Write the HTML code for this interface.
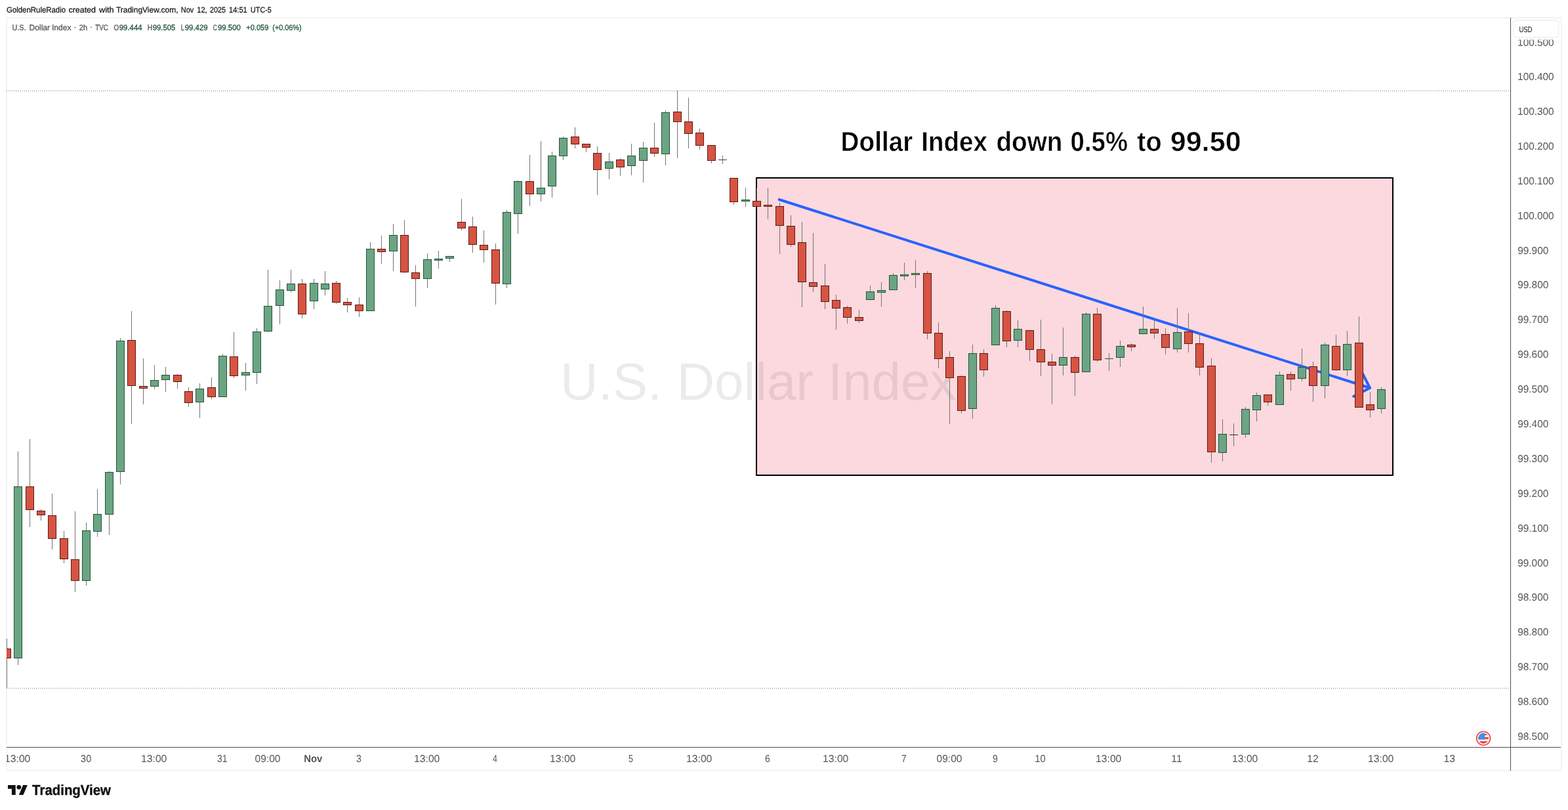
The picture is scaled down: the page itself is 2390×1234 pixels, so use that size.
<!DOCTYPE html>
<html lang="en"><head><meta charset="utf-8"><title>U.S. Dollar Index</title>
<style>
html,body{margin:0;padding:0;background:#fff;}
body{width:2390px;height:1234px;overflow:hidden;position:relative;font-family:"Liberation Sans", sans-serif;}
svg{position:absolute;left:0;top:0;display:block;}
text{font-family:"Liberation Sans", sans-serif;text-rendering:geometricPrecision;}
.ce{shape-rendering:crispEdges;}
</style></head><body>
<svg width="2390" height="1234" viewBox="0 0 2390 1234">
<rect x="0" y="0" width="2390" height="1234" fill="#ffffff"/>
<rect class="ce" x="10" y="27" width="2370" height="1147" fill="#ffffff" stroke="#f3f3f3" stroke-width="2"/>
<g class="ce" fill="#7a7a7a">
<path d="M10 138h1v1h-1zM13 138h1v1h-1zM16 138h1v1h-1zM19 138h1v1h-1zM22 138h1v1h-1zM25 138h1v1h-1zM28 138h1v1h-1zM31 138h1v1h-1zM34 138h1v1h-1zM37 138h1v1h-1zM40 138h1v1h-1zM43 138h1v1h-1zM46 138h1v1h-1zM49 138h1v1h-1zM52 138h1v1h-1zM55 138h1v1h-1zM58 138h1v1h-1zM61 138h1v1h-1zM64 138h1v1h-1zM67 138h1v1h-1zM70 138h1v1h-1zM73 138h1v1h-1zM76 138h1v1h-1zM79 138h1v1h-1zM82 138h1v1h-1zM85 138h1v1h-1zM88 138h1v1h-1zM91 138h1v1h-1zM94 138h1v1h-1zM97 138h1v1h-1zM100 138h1v1h-1zM103 138h1v1h-1zM106 138h1v1h-1zM109 138h1v1h-1zM112 138h1v1h-1zM115 138h1v1h-1zM118 138h1v1h-1zM121 138h1v1h-1zM124 138h1v1h-1zM127 138h1v1h-1zM130 138h1v1h-1zM133 138h1v1h-1zM136 138h1v1h-1zM139 138h1v1h-1zM142 138h1v1h-1zM145 138h1v1h-1zM148 138h1v1h-1zM151 138h1v1h-1zM154 138h1v1h-1zM157 138h1v1h-1zM160 138h1v1h-1zM163 138h1v1h-1zM166 138h1v1h-1zM169 138h1v1h-1zM172 138h1v1h-1zM175 138h1v1h-1zM178 138h1v1h-1zM181 138h1v1h-1zM184 138h1v1h-1zM187 138h1v1h-1zM190 138h1v1h-1zM193 138h1v1h-1zM196 138h1v1h-1zM199 138h1v1h-1zM202 138h1v1h-1zM205 138h1v1h-1zM208 138h1v1h-1zM211 138h1v1h-1zM214 138h1v1h-1zM217 138h1v1h-1zM220 138h1v1h-1zM223 138h1v1h-1zM226 138h1v1h-1zM229 138h1v1h-1zM232 138h1v1h-1zM235 138h1v1h-1zM238 138h1v1h-1zM241 138h1v1h-1zM244 138h1v1h-1zM247 138h1v1h-1zM250 138h1v1h-1zM253 138h1v1h-1zM256 138h1v1h-1zM259 138h1v1h-1zM262 138h1v1h-1zM265 138h1v1h-1zM268 138h1v1h-1zM271 138h1v1h-1zM274 138h1v1h-1zM277 138h1v1h-1zM280 138h1v1h-1zM283 138h1v1h-1zM286 138h1v1h-1zM289 138h1v1h-1zM292 138h1v1h-1zM295 138h1v1h-1zM298 138h1v1h-1zM301 138h1v1h-1zM304 138h1v1h-1zM307 138h1v1h-1zM310 138h1v1h-1zM313 138h1v1h-1zM316 138h1v1h-1zM319 138h1v1h-1zM322 138h1v1h-1zM325 138h1v1h-1zM328 138h1v1h-1zM331 138h1v1h-1zM334 138h1v1h-1zM337 138h1v1h-1zM340 138h1v1h-1zM343 138h1v1h-1zM346 138h1v1h-1zM349 138h1v1h-1zM352 138h1v1h-1zM355 138h1v1h-1zM358 138h1v1h-1zM361 138h1v1h-1zM364 138h1v1h-1zM367 138h1v1h-1zM370 138h1v1h-1zM373 138h1v1h-1zM376 138h1v1h-1zM379 138h1v1h-1zM382 138h1v1h-1zM385 138h1v1h-1zM388 138h1v1h-1zM391 138h1v1h-1zM394 138h1v1h-1zM397 138h1v1h-1zM400 138h1v1h-1zM403 138h1v1h-1zM406 138h1v1h-1zM409 138h1v1h-1zM412 138h1v1h-1zM415 138h1v1h-1zM418 138h1v1h-1zM421 138h1v1h-1zM424 138h1v1h-1zM427 138h1v1h-1zM430 138h1v1h-1zM433 138h1v1h-1zM436 138h1v1h-1zM439 138h1v1h-1zM442 138h1v1h-1zM445 138h1v1h-1zM448 138h1v1h-1zM451 138h1v1h-1zM454 138h1v1h-1zM457 138h1v1h-1zM460 138h1v1h-1zM463 138h1v1h-1zM466 138h1v1h-1zM469 138h1v1h-1zM472 138h1v1h-1zM475 138h1v1h-1zM478 138h1v1h-1zM481 138h1v1h-1zM484 138h1v1h-1zM487 138h1v1h-1zM490 138h1v1h-1zM493 138h1v1h-1zM496 138h1v1h-1zM499 138h1v1h-1zM502 138h1v1h-1zM505 138h1v1h-1zM508 138h1v1h-1zM511 138h1v1h-1zM514 138h1v1h-1zM517 138h1v1h-1zM520 138h1v1h-1zM523 138h1v1h-1zM526 138h1v1h-1zM529 138h1v1h-1zM532 138h1v1h-1zM535 138h1v1h-1zM538 138h1v1h-1zM541 138h1v1h-1zM544 138h1v1h-1zM547 138h1v1h-1zM550 138h1v1h-1zM553 138h1v1h-1zM556 138h1v1h-1zM559 138h1v1h-1zM562 138h1v1h-1zM565 138h1v1h-1zM568 138h1v1h-1zM571 138h1v1h-1zM574 138h1v1h-1zM577 138h1v1h-1zM580 138h1v1h-1zM583 138h1v1h-1zM586 138h1v1h-1zM589 138h1v1h-1zM592 138h1v1h-1zM595 138h1v1h-1zM598 138h1v1h-1zM601 138h1v1h-1zM604 138h1v1h-1zM607 138h1v1h-1zM610 138h1v1h-1zM613 138h1v1h-1zM616 138h1v1h-1zM619 138h1v1h-1zM622 138h1v1h-1zM625 138h1v1h-1zM628 138h1v1h-1zM631 138h1v1h-1zM634 138h1v1h-1zM637 138h1v1h-1zM640 138h1v1h-1zM643 138h1v1h-1zM646 138h1v1h-1zM649 138h1v1h-1zM652 138h1v1h-1zM655 138h1v1h-1zM658 138h1v1h-1zM661 138h1v1h-1zM664 138h1v1h-1zM667 138h1v1h-1zM670 138h1v1h-1zM673 138h1v1h-1zM676 138h1v1h-1zM679 138h1v1h-1zM682 138h1v1h-1zM685 138h1v1h-1zM688 138h1v1h-1zM691 138h1v1h-1zM694 138h1v1h-1zM697 138h1v1h-1zM700 138h1v1h-1zM703 138h1v1h-1zM706 138h1v1h-1zM709 138h1v1h-1zM712 138h1v1h-1zM715 138h1v1h-1zM718 138h1v1h-1zM721 138h1v1h-1zM724 138h1v1h-1zM727 138h1v1h-1zM730 138h1v1h-1zM733 138h1v1h-1zM736 138h1v1h-1zM739 138h1v1h-1zM742 138h1v1h-1zM745 138h1v1h-1zM748 138h1v1h-1zM751 138h1v1h-1zM754 138h1v1h-1zM757 138h1v1h-1zM760 138h1v1h-1zM763 138h1v1h-1zM766 138h1v1h-1zM769 138h1v1h-1zM772 138h1v1h-1zM775 138h1v1h-1zM778 138h1v1h-1zM781 138h1v1h-1zM784 138h1v1h-1zM787 138h1v1h-1zM790 138h1v1h-1zM793 138h1v1h-1zM796 138h1v1h-1zM799 138h1v1h-1zM802 138h1v1h-1zM805 138h1v1h-1zM808 138h1v1h-1zM811 138h1v1h-1zM814 138h1v1h-1zM817 138h1v1h-1zM820 138h1v1h-1zM823 138h1v1h-1zM826 138h1v1h-1zM829 138h1v1h-1zM832 138h1v1h-1zM835 138h1v1h-1zM838 138h1v1h-1zM841 138h1v1h-1zM844 138h1v1h-1zM847 138h1v1h-1zM850 138h1v1h-1zM853 138h1v1h-1zM856 138h1v1h-1zM859 138h1v1h-1zM862 138h1v1h-1zM865 138h1v1h-1zM868 138h1v1h-1zM871 138h1v1h-1zM874 138h1v1h-1zM877 138h1v1h-1zM880 138h1v1h-1zM883 138h1v1h-1zM886 138h1v1h-1zM889 138h1v1h-1zM892 138h1v1h-1zM895 138h1v1h-1zM898 138h1v1h-1zM901 138h1v1h-1zM904 138h1v1h-1zM907 138h1v1h-1zM910 138h1v1h-1zM913 138h1v1h-1zM916 138h1v1h-1zM919 138h1v1h-1zM922 138h1v1h-1zM925 138h1v1h-1zM928 138h1v1h-1zM931 138h1v1h-1zM934 138h1v1h-1zM937 138h1v1h-1zM940 138h1v1h-1zM943 138h1v1h-1zM946 138h1v1h-1zM949 138h1v1h-1zM952 138h1v1h-1zM955 138h1v1h-1zM958 138h1v1h-1zM961 138h1v1h-1zM964 138h1v1h-1zM967 138h1v1h-1zM970 138h1v1h-1zM973 138h1v1h-1zM976 138h1v1h-1zM979 138h1v1h-1zM982 138h1v1h-1zM985 138h1v1h-1zM988 138h1v1h-1zM991 138h1v1h-1zM994 138h1v1h-1zM997 138h1v1h-1zM1000 138h1v1h-1zM1003 138h1v1h-1zM1006 138h1v1h-1zM1009 138h1v1h-1zM1012 138h1v1h-1zM1015 138h1v1h-1zM1018 138h1v1h-1zM1021 138h1v1h-1zM1024 138h1v1h-1zM1027 138h1v1h-1zM1030 138h1v1h-1zM1033 138h1v1h-1zM1036 138h1v1h-1zM1039 138h1v1h-1zM1042 138h1v1h-1zM1045 138h1v1h-1zM1048 138h1v1h-1zM1051 138h1v1h-1zM1054 138h1v1h-1zM1057 138h1v1h-1zM1060 138h1v1h-1zM1063 138h1v1h-1zM1066 138h1v1h-1zM1069 138h1v1h-1zM1072 138h1v1h-1zM1075 138h1v1h-1zM1078 138h1v1h-1zM1081 138h1v1h-1zM1084 138h1v1h-1zM1087 138h1v1h-1zM1090 138h1v1h-1zM1093 138h1v1h-1zM1096 138h1v1h-1zM1099 138h1v1h-1zM1102 138h1v1h-1zM1105 138h1v1h-1zM1108 138h1v1h-1zM1111 138h1v1h-1zM1114 138h1v1h-1zM1117 138h1v1h-1zM1120 138h1v1h-1zM1123 138h1v1h-1zM1126 138h1v1h-1zM1129 138h1v1h-1zM1132 138h1v1h-1zM1135 138h1v1h-1zM1138 138h1v1h-1zM1141 138h1v1h-1zM1144 138h1v1h-1zM1147 138h1v1h-1zM1150 138h1v1h-1zM1153 138h1v1h-1zM1156 138h1v1h-1zM1159 138h1v1h-1zM1162 138h1v1h-1zM1165 138h1v1h-1zM1168 138h1v1h-1zM1171 138h1v1h-1zM1174 138h1v1h-1zM1177 138h1v1h-1zM1180 138h1v1h-1zM1183 138h1v1h-1zM1186 138h1v1h-1zM1189 138h1v1h-1zM1192 138h1v1h-1zM1195 138h1v1h-1zM1198 138h1v1h-1zM1201 138h1v1h-1zM1204 138h1v1h-1zM1207 138h1v1h-1zM1210 138h1v1h-1zM1213 138h1v1h-1zM1216 138h1v1h-1zM1219 138h1v1h-1zM1222 138h1v1h-1zM1225 138h1v1h-1zM1228 138h1v1h-1zM1231 138h1v1h-1zM1234 138h1v1h-1zM1237 138h1v1h-1zM1240 138h1v1h-1zM1243 138h1v1h-1zM1246 138h1v1h-1zM1249 138h1v1h-1zM1252 138h1v1h-1zM1255 138h1v1h-1zM1258 138h1v1h-1zM1261 138h1v1h-1zM1264 138h1v1h-1zM1267 138h1v1h-1zM1270 138h1v1h-1zM1273 138h1v1h-1zM1276 138h1v1h-1zM1279 138h1v1h-1zM1282 138h1v1h-1zM1285 138h1v1h-1zM1288 138h1v1h-1zM1291 138h1v1h-1zM1294 138h1v1h-1zM1297 138h1v1h-1zM1300 138h1v1h-1zM1303 138h1v1h-1zM1306 138h1v1h-1zM1309 138h1v1h-1zM1312 138h1v1h-1zM1315 138h1v1h-1zM1318 138h1v1h-1zM1321 138h1v1h-1zM1324 138h1v1h-1zM1327 138h1v1h-1zM1330 138h1v1h-1zM1333 138h1v1h-1zM1336 138h1v1h-1zM1339 138h1v1h-1zM1342 138h1v1h-1zM1345 138h1v1h-1zM1348 138h1v1h-1zM1351 138h1v1h-1zM1354 138h1v1h-1zM1357 138h1v1h-1zM1360 138h1v1h-1zM1363 138h1v1h-1zM1366 138h1v1h-1zM1369 138h1v1h-1zM1372 138h1v1h-1zM1375 138h1v1h-1zM1378 138h1v1h-1zM1381 138h1v1h-1zM1384 138h1v1h-1zM1387 138h1v1h-1zM1390 138h1v1h-1zM1393 138h1v1h-1zM1396 138h1v1h-1zM1399 138h1v1h-1zM1402 138h1v1h-1zM1405 138h1v1h-1zM1408 138h1v1h-1zM1411 138h1v1h-1zM1414 138h1v1h-1zM1417 138h1v1h-1zM1420 138h1v1h-1zM1423 138h1v1h-1zM1426 138h1v1h-1zM1429 138h1v1h-1zM1432 138h1v1h-1zM1435 138h1v1h-1zM1438 138h1v1h-1zM1441 138h1v1h-1zM1444 138h1v1h-1zM1447 138h1v1h-1zM1450 138h1v1h-1zM1453 138h1v1h-1zM1456 138h1v1h-1zM1459 138h1v1h-1zM1462 138h1v1h-1zM1465 138h1v1h-1zM1468 138h1v1h-1zM1471 138h1v1h-1zM1474 138h1v1h-1zM1477 138h1v1h-1zM1480 138h1v1h-1zM1483 138h1v1h-1zM1486 138h1v1h-1zM1489 138h1v1h-1zM1492 138h1v1h-1zM1495 138h1v1h-1zM1498 138h1v1h-1zM1501 138h1v1h-1zM1504 138h1v1h-1zM1507 138h1v1h-1zM1510 138h1v1h-1zM1513 138h1v1h-1zM1516 138h1v1h-1zM1519 138h1v1h-1zM1522 138h1v1h-1zM1525 138h1v1h-1zM1528 138h1v1h-1zM1531 138h1v1h-1zM1534 138h1v1h-1zM1537 138h1v1h-1zM1540 138h1v1h-1zM1543 138h1v1h-1zM1546 138h1v1h-1zM1549 138h1v1h-1zM1552 138h1v1h-1zM1555 138h1v1h-1zM1558 138h1v1h-1zM1561 138h1v1h-1zM1564 138h1v1h-1zM1567 138h1v1h-1zM1570 138h1v1h-1zM1573 138h1v1h-1zM1576 138h1v1h-1zM1579 138h1v1h-1zM1582 138h1v1h-1zM1585 138h1v1h-1zM1588 138h1v1h-1zM1591 138h1v1h-1zM1594 138h1v1h-1zM1597 138h1v1h-1zM1600 138h1v1h-1zM1603 138h1v1h-1zM1606 138h1v1h-1zM1609 138h1v1h-1zM1612 138h1v1h-1zM1615 138h1v1h-1zM1618 138h1v1h-1zM1621 138h1v1h-1zM1624 138h1v1h-1zM1627 138h1v1h-1zM1630 138h1v1h-1zM1633 138h1v1h-1zM1636 138h1v1h-1zM1639 138h1v1h-1zM1642 138h1v1h-1zM1645 138h1v1h-1zM1648 138h1v1h-1zM1651 138h1v1h-1zM1654 138h1v1h-1zM1657 138h1v1h-1zM1660 138h1v1h-1zM1663 138h1v1h-1zM1666 138h1v1h-1zM1669 138h1v1h-1zM1672 138h1v1h-1zM1675 138h1v1h-1zM1678 138h1v1h-1zM1681 138h1v1h-1zM1684 138h1v1h-1zM1687 138h1v1h-1zM1690 138h1v1h-1zM1693 138h1v1h-1zM1696 138h1v1h-1zM1699 138h1v1h-1zM1702 138h1v1h-1zM1705 138h1v1h-1zM1708 138h1v1h-1zM1711 138h1v1h-1zM1714 138h1v1h-1zM1717 138h1v1h-1zM1720 138h1v1h-1zM1723 138h1v1h-1zM1726 138h1v1h-1zM1729 138h1v1h-1zM1732 138h1v1h-1zM1735 138h1v1h-1zM1738 138h1v1h-1zM1741 138h1v1h-1zM1744 138h1v1h-1zM1747 138h1v1h-1zM1750 138h1v1h-1zM1753 138h1v1h-1zM1756 138h1v1h-1zM1759 138h1v1h-1zM1762 138h1v1h-1zM1765 138h1v1h-1zM1768 138h1v1h-1zM1771 138h1v1h-1zM1774 138h1v1h-1zM1777 138h1v1h-1zM1780 138h1v1h-1zM1783 138h1v1h-1zM1786 138h1v1h-1zM1789 138h1v1h-1zM1792 138h1v1h-1zM1795 138h1v1h-1zM1798 138h1v1h-1zM1801 138h1v1h-1zM1804 138h1v1h-1zM1807 138h1v1h-1zM1810 138h1v1h-1zM1813 138h1v1h-1zM1816 138h1v1h-1zM1819 138h1v1h-1zM1822 138h1v1h-1zM1825 138h1v1h-1zM1828 138h1v1h-1zM1831 138h1v1h-1zM1834 138h1v1h-1zM1837 138h1v1h-1zM1840 138h1v1h-1zM1843 138h1v1h-1zM1846 138h1v1h-1zM1849 138h1v1h-1zM1852 138h1v1h-1zM1855 138h1v1h-1zM1858 138h1v1h-1zM1861 138h1v1h-1zM1864 138h1v1h-1zM1867 138h1v1h-1zM1870 138h1v1h-1zM1873 138h1v1h-1zM1876 138h1v1h-1zM1879 138h1v1h-1zM1882 138h1v1h-1zM1885 138h1v1h-1zM1888 138h1v1h-1zM1891 138h1v1h-1zM1894 138h1v1h-1zM1897 138h1v1h-1zM1900 138h1v1h-1zM1903 138h1v1h-1zM1906 138h1v1h-1zM1909 138h1v1h-1zM1912 138h1v1h-1zM1915 138h1v1h-1zM1918 138h1v1h-1zM1921 138h1v1h-1zM1924 138h1v1h-1zM1927 138h1v1h-1zM1930 138h1v1h-1zM1933 138h1v1h-1zM1936 138h1v1h-1zM1939 138h1v1h-1zM1942 138h1v1h-1zM1945 138h1v1h-1zM1948 138h1v1h-1zM1951 138h1v1h-1zM1954 138h1v1h-1zM1957 138h1v1h-1zM1960 138h1v1h-1zM1963 138h1v1h-1zM1966 138h1v1h-1zM1969 138h1v1h-1zM1972 138h1v1h-1zM1975 138h1v1h-1zM1978 138h1v1h-1zM1981 138h1v1h-1zM1984 138h1v1h-1zM1987 138h1v1h-1zM1990 138h1v1h-1zM1993 138h1v1h-1zM1996 138h1v1h-1zM1999 138h1v1h-1zM2002 138h1v1h-1zM2005 138h1v1h-1zM2008 138h1v1h-1zM2011 138h1v1h-1zM2014 138h1v1h-1zM2017 138h1v1h-1zM2020 138h1v1h-1zM2023 138h1v1h-1zM2026 138h1v1h-1zM2029 138h1v1h-1zM2032 138h1v1h-1zM2035 138h1v1h-1zM2038 138h1v1h-1zM2041 138h1v1h-1zM2044 138h1v1h-1zM2047 138h1v1h-1zM2050 138h1v1h-1zM2053 138h1v1h-1zM2056 138h1v1h-1zM2059 138h1v1h-1zM2062 138h1v1h-1zM2065 138h1v1h-1zM2068 138h1v1h-1zM2071 138h1v1h-1zM2074 138h1v1h-1zM2077 138h1v1h-1zM2080 138h1v1h-1zM2083 138h1v1h-1zM2086 138h1v1h-1zM2089 138h1v1h-1zM2092 138h1v1h-1zM2095 138h1v1h-1zM2098 138h1v1h-1zM2101 138h1v1h-1zM2104 138h1v1h-1zM2107 138h1v1h-1zM2110 138h1v1h-1zM2113 138h1v1h-1zM2116 138h1v1h-1zM2119 138h1v1h-1zM2122 138h1v1h-1zM2125 138h1v1h-1zM2128 138h1v1h-1zM2131 138h1v1h-1zM2134 138h1v1h-1zM2137 138h1v1h-1zM2140 138h1v1h-1zM2143 138h1v1h-1zM2146 138h1v1h-1zM2149 138h1v1h-1zM2152 138h1v1h-1zM2155 138h1v1h-1zM2158 138h1v1h-1zM2161 138h1v1h-1zM2164 138h1v1h-1zM2167 138h1v1h-1zM2170 138h1v1h-1zM2173 138h1v1h-1zM2176 138h1v1h-1zM2179 138h1v1h-1zM2182 138h1v1h-1zM2185 138h1v1h-1zM2188 138h1v1h-1zM2191 138h1v1h-1zM2194 138h1v1h-1zM2197 138h1v1h-1zM2200 138h1v1h-1zM2203 138h1v1h-1zM2206 138h1v1h-1zM2209 138h1v1h-1zM2212 138h1v1h-1zM2215 138h1v1h-1zM2218 138h1v1h-1zM2221 138h1v1h-1zM2224 138h1v1h-1zM2227 138h1v1h-1zM2230 138h1v1h-1zM2233 138h1v1h-1zM2236 138h1v1h-1zM2239 138h1v1h-1zM2242 138h1v1h-1zM2245 138h1v1h-1zM2248 138h1v1h-1zM2251 138h1v1h-1zM2254 138h1v1h-1zM2257 138h1v1h-1zM2260 138h1v1h-1zM2263 138h1v1h-1zM2266 138h1v1h-1zM2269 138h1v1h-1zM2272 138h1v1h-1zM2275 138h1v1h-1zM2278 138h1v1h-1zM2281 138h1v1h-1zM2284 138h1v1h-1zM2287 138h1v1h-1zM2290 138h1v1h-1zM2293 138h1v1h-1zM2296 138h1v1h-1zM2299 138h1v1h-1z"/>
<path d="M10 1048h1v1h-1zM13 1048h1v1h-1zM16 1048h1v1h-1zM19 1048h1v1h-1zM22 1048h1v1h-1zM25 1048h1v1h-1zM28 1048h1v1h-1zM31 1048h1v1h-1zM34 1048h1v1h-1zM37 1048h1v1h-1zM40 1048h1v1h-1zM43 1048h1v1h-1zM46 1048h1v1h-1zM49 1048h1v1h-1zM52 1048h1v1h-1zM55 1048h1v1h-1zM58 1048h1v1h-1zM61 1048h1v1h-1zM64 1048h1v1h-1zM67 1048h1v1h-1zM70 1048h1v1h-1zM73 1048h1v1h-1zM76 1048h1v1h-1zM79 1048h1v1h-1zM82 1048h1v1h-1zM85 1048h1v1h-1zM88 1048h1v1h-1zM91 1048h1v1h-1zM94 1048h1v1h-1zM97 1048h1v1h-1zM100 1048h1v1h-1zM103 1048h1v1h-1zM106 1048h1v1h-1zM109 1048h1v1h-1zM112 1048h1v1h-1zM115 1048h1v1h-1zM118 1048h1v1h-1zM121 1048h1v1h-1zM124 1048h1v1h-1zM127 1048h1v1h-1zM130 1048h1v1h-1zM133 1048h1v1h-1zM136 1048h1v1h-1zM139 1048h1v1h-1zM142 1048h1v1h-1zM145 1048h1v1h-1zM148 1048h1v1h-1zM151 1048h1v1h-1zM154 1048h1v1h-1zM157 1048h1v1h-1zM160 1048h1v1h-1zM163 1048h1v1h-1zM166 1048h1v1h-1zM169 1048h1v1h-1zM172 1048h1v1h-1zM175 1048h1v1h-1zM178 1048h1v1h-1zM181 1048h1v1h-1zM184 1048h1v1h-1zM187 1048h1v1h-1zM190 1048h1v1h-1zM193 1048h1v1h-1zM196 1048h1v1h-1zM199 1048h1v1h-1zM202 1048h1v1h-1zM205 1048h1v1h-1zM208 1048h1v1h-1zM211 1048h1v1h-1zM214 1048h1v1h-1zM217 1048h1v1h-1zM220 1048h1v1h-1zM223 1048h1v1h-1zM226 1048h1v1h-1zM229 1048h1v1h-1zM232 1048h1v1h-1zM235 1048h1v1h-1zM238 1048h1v1h-1zM241 1048h1v1h-1zM244 1048h1v1h-1zM247 1048h1v1h-1zM250 1048h1v1h-1zM253 1048h1v1h-1zM256 1048h1v1h-1zM259 1048h1v1h-1zM262 1048h1v1h-1zM265 1048h1v1h-1zM268 1048h1v1h-1zM271 1048h1v1h-1zM274 1048h1v1h-1zM277 1048h1v1h-1zM280 1048h1v1h-1zM283 1048h1v1h-1zM286 1048h1v1h-1zM289 1048h1v1h-1zM292 1048h1v1h-1zM295 1048h1v1h-1zM298 1048h1v1h-1zM301 1048h1v1h-1zM304 1048h1v1h-1zM307 1048h1v1h-1zM310 1048h1v1h-1zM313 1048h1v1h-1zM316 1048h1v1h-1zM319 1048h1v1h-1zM322 1048h1v1h-1zM325 1048h1v1h-1zM328 1048h1v1h-1zM331 1048h1v1h-1zM334 1048h1v1h-1zM337 1048h1v1h-1zM340 1048h1v1h-1zM343 1048h1v1h-1zM346 1048h1v1h-1zM349 1048h1v1h-1zM352 1048h1v1h-1zM355 1048h1v1h-1zM358 1048h1v1h-1zM361 1048h1v1h-1zM364 1048h1v1h-1zM367 1048h1v1h-1zM370 1048h1v1h-1zM373 1048h1v1h-1zM376 1048h1v1h-1zM379 1048h1v1h-1zM382 1048h1v1h-1zM385 1048h1v1h-1zM388 1048h1v1h-1zM391 1048h1v1h-1zM394 1048h1v1h-1zM397 1048h1v1h-1zM400 1048h1v1h-1zM403 1048h1v1h-1zM406 1048h1v1h-1zM409 1048h1v1h-1zM412 1048h1v1h-1zM415 1048h1v1h-1zM418 1048h1v1h-1zM421 1048h1v1h-1zM424 1048h1v1h-1zM427 1048h1v1h-1zM430 1048h1v1h-1zM433 1048h1v1h-1zM436 1048h1v1h-1zM439 1048h1v1h-1zM442 1048h1v1h-1zM445 1048h1v1h-1zM448 1048h1v1h-1zM451 1048h1v1h-1zM454 1048h1v1h-1zM457 1048h1v1h-1zM460 1048h1v1h-1zM463 1048h1v1h-1zM466 1048h1v1h-1zM469 1048h1v1h-1zM472 1048h1v1h-1zM475 1048h1v1h-1zM478 1048h1v1h-1zM481 1048h1v1h-1zM484 1048h1v1h-1zM487 1048h1v1h-1zM490 1048h1v1h-1zM493 1048h1v1h-1zM496 1048h1v1h-1zM499 1048h1v1h-1zM502 1048h1v1h-1zM505 1048h1v1h-1zM508 1048h1v1h-1zM511 1048h1v1h-1zM514 1048h1v1h-1zM517 1048h1v1h-1zM520 1048h1v1h-1zM523 1048h1v1h-1zM526 1048h1v1h-1zM529 1048h1v1h-1zM532 1048h1v1h-1zM535 1048h1v1h-1zM538 1048h1v1h-1zM541 1048h1v1h-1zM544 1048h1v1h-1zM547 1048h1v1h-1zM550 1048h1v1h-1zM553 1048h1v1h-1zM556 1048h1v1h-1zM559 1048h1v1h-1zM562 1048h1v1h-1zM565 1048h1v1h-1zM568 1048h1v1h-1zM571 1048h1v1h-1zM574 1048h1v1h-1zM577 1048h1v1h-1zM580 1048h1v1h-1zM583 1048h1v1h-1zM586 1048h1v1h-1zM589 1048h1v1h-1zM592 1048h1v1h-1zM595 1048h1v1h-1zM598 1048h1v1h-1zM601 1048h1v1h-1zM604 1048h1v1h-1zM607 1048h1v1h-1zM610 1048h1v1h-1zM613 1048h1v1h-1zM616 1048h1v1h-1zM619 1048h1v1h-1zM622 1048h1v1h-1zM625 1048h1v1h-1zM628 1048h1v1h-1zM631 1048h1v1h-1zM634 1048h1v1h-1zM637 1048h1v1h-1zM640 1048h1v1h-1zM643 1048h1v1h-1zM646 1048h1v1h-1zM649 1048h1v1h-1zM652 1048h1v1h-1zM655 1048h1v1h-1zM658 1048h1v1h-1zM661 1048h1v1h-1zM664 1048h1v1h-1zM667 1048h1v1h-1zM670 1048h1v1h-1zM673 1048h1v1h-1zM676 1048h1v1h-1zM679 1048h1v1h-1zM682 1048h1v1h-1zM685 1048h1v1h-1zM688 1048h1v1h-1zM691 1048h1v1h-1zM694 1048h1v1h-1zM697 1048h1v1h-1zM700 1048h1v1h-1zM703 1048h1v1h-1zM706 1048h1v1h-1zM709 1048h1v1h-1zM712 1048h1v1h-1zM715 1048h1v1h-1zM718 1048h1v1h-1zM721 1048h1v1h-1zM724 1048h1v1h-1zM727 1048h1v1h-1zM730 1048h1v1h-1zM733 1048h1v1h-1zM736 1048h1v1h-1zM739 1048h1v1h-1zM742 1048h1v1h-1zM745 1048h1v1h-1zM748 1048h1v1h-1zM751 1048h1v1h-1zM754 1048h1v1h-1zM757 1048h1v1h-1zM760 1048h1v1h-1zM763 1048h1v1h-1zM766 1048h1v1h-1zM769 1048h1v1h-1zM772 1048h1v1h-1zM775 1048h1v1h-1zM778 1048h1v1h-1zM781 1048h1v1h-1zM784 1048h1v1h-1zM787 1048h1v1h-1zM790 1048h1v1h-1zM793 1048h1v1h-1zM796 1048h1v1h-1zM799 1048h1v1h-1zM802 1048h1v1h-1zM805 1048h1v1h-1zM808 1048h1v1h-1zM811 1048h1v1h-1zM814 1048h1v1h-1zM817 1048h1v1h-1zM820 1048h1v1h-1zM823 1048h1v1h-1zM826 1048h1v1h-1zM829 1048h1v1h-1zM832 1048h1v1h-1zM835 1048h1v1h-1zM838 1048h1v1h-1zM841 1048h1v1h-1zM844 1048h1v1h-1zM847 1048h1v1h-1zM850 1048h1v1h-1zM853 1048h1v1h-1zM856 1048h1v1h-1zM859 1048h1v1h-1zM862 1048h1v1h-1zM865 1048h1v1h-1zM868 1048h1v1h-1zM871 1048h1v1h-1zM874 1048h1v1h-1zM877 1048h1v1h-1zM880 1048h1v1h-1zM883 1048h1v1h-1zM886 1048h1v1h-1zM889 1048h1v1h-1zM892 1048h1v1h-1zM895 1048h1v1h-1zM898 1048h1v1h-1zM901 1048h1v1h-1zM904 1048h1v1h-1zM907 1048h1v1h-1zM910 1048h1v1h-1zM913 1048h1v1h-1zM916 1048h1v1h-1zM919 1048h1v1h-1zM922 1048h1v1h-1zM925 1048h1v1h-1zM928 1048h1v1h-1zM931 1048h1v1h-1zM934 1048h1v1h-1zM937 1048h1v1h-1zM940 1048h1v1h-1zM943 1048h1v1h-1zM946 1048h1v1h-1zM949 1048h1v1h-1zM952 1048h1v1h-1zM955 1048h1v1h-1zM958 1048h1v1h-1zM961 1048h1v1h-1zM964 1048h1v1h-1zM967 1048h1v1h-1zM970 1048h1v1h-1zM973 1048h1v1h-1zM976 1048h1v1h-1zM979 1048h1v1h-1zM982 1048h1v1h-1zM985 1048h1v1h-1zM988 1048h1v1h-1zM991 1048h1v1h-1zM994 1048h1v1h-1zM997 1048h1v1h-1zM1000 1048h1v1h-1zM1003 1048h1v1h-1zM1006 1048h1v1h-1zM1009 1048h1v1h-1zM1012 1048h1v1h-1zM1015 1048h1v1h-1zM1018 1048h1v1h-1zM1021 1048h1v1h-1zM1024 1048h1v1h-1zM1027 1048h1v1h-1zM1030 1048h1v1h-1zM1033 1048h1v1h-1zM1036 1048h1v1h-1zM1039 1048h1v1h-1zM1042 1048h1v1h-1zM1045 1048h1v1h-1zM1048 1048h1v1h-1zM1051 1048h1v1h-1zM1054 1048h1v1h-1zM1057 1048h1v1h-1zM1060 1048h1v1h-1zM1063 1048h1v1h-1zM1066 1048h1v1h-1zM1069 1048h1v1h-1zM1072 1048h1v1h-1zM1075 1048h1v1h-1zM1078 1048h1v1h-1zM1081 1048h1v1h-1zM1084 1048h1v1h-1zM1087 1048h1v1h-1zM1090 1048h1v1h-1zM1093 1048h1v1h-1zM1096 1048h1v1h-1zM1099 1048h1v1h-1zM1102 1048h1v1h-1zM1105 1048h1v1h-1zM1108 1048h1v1h-1zM1111 1048h1v1h-1zM1114 1048h1v1h-1zM1117 1048h1v1h-1zM1120 1048h1v1h-1zM1123 1048h1v1h-1zM1126 1048h1v1h-1zM1129 1048h1v1h-1zM1132 1048h1v1h-1zM1135 1048h1v1h-1zM1138 1048h1v1h-1zM1141 1048h1v1h-1zM1144 1048h1v1h-1zM1147 1048h1v1h-1zM1150 1048h1v1h-1zM1153 1048h1v1h-1zM1156 1048h1v1h-1zM1159 1048h1v1h-1zM1162 1048h1v1h-1zM1165 1048h1v1h-1zM1168 1048h1v1h-1zM1171 1048h1v1h-1zM1174 1048h1v1h-1zM1177 1048h1v1h-1zM1180 1048h1v1h-1zM1183 1048h1v1h-1zM1186 1048h1v1h-1zM1189 1048h1v1h-1zM1192 1048h1v1h-1zM1195 1048h1v1h-1zM1198 1048h1v1h-1zM1201 1048h1v1h-1zM1204 1048h1v1h-1zM1207 1048h1v1h-1zM1210 1048h1v1h-1zM1213 1048h1v1h-1zM1216 1048h1v1h-1zM1219 1048h1v1h-1zM1222 1048h1v1h-1zM1225 1048h1v1h-1zM1228 1048h1v1h-1zM1231 1048h1v1h-1zM1234 1048h1v1h-1zM1237 1048h1v1h-1zM1240 1048h1v1h-1zM1243 1048h1v1h-1zM1246 1048h1v1h-1zM1249 1048h1v1h-1zM1252 1048h1v1h-1zM1255 1048h1v1h-1zM1258 1048h1v1h-1zM1261 1048h1v1h-1zM1264 1048h1v1h-1zM1267 1048h1v1h-1zM1270 1048h1v1h-1zM1273 1048h1v1h-1zM1276 1048h1v1h-1zM1279 1048h1v1h-1zM1282 1048h1v1h-1zM1285 1048h1v1h-1zM1288 1048h1v1h-1zM1291 1048h1v1h-1zM1294 1048h1v1h-1zM1297 1048h1v1h-1zM1300 1048h1v1h-1zM1303 1048h1v1h-1zM1306 1048h1v1h-1zM1309 1048h1v1h-1zM1312 1048h1v1h-1zM1315 1048h1v1h-1zM1318 1048h1v1h-1zM1321 1048h1v1h-1zM1324 1048h1v1h-1zM1327 1048h1v1h-1zM1330 1048h1v1h-1zM1333 1048h1v1h-1zM1336 1048h1v1h-1zM1339 1048h1v1h-1zM1342 1048h1v1h-1zM1345 1048h1v1h-1zM1348 1048h1v1h-1zM1351 1048h1v1h-1zM1354 1048h1v1h-1zM1357 1048h1v1h-1zM1360 1048h1v1h-1zM1363 1048h1v1h-1zM1366 1048h1v1h-1zM1369 1048h1v1h-1zM1372 1048h1v1h-1zM1375 1048h1v1h-1zM1378 1048h1v1h-1zM1381 1048h1v1h-1zM1384 1048h1v1h-1zM1387 1048h1v1h-1zM1390 1048h1v1h-1zM1393 1048h1v1h-1zM1396 1048h1v1h-1zM1399 1048h1v1h-1zM1402 1048h1v1h-1zM1405 1048h1v1h-1zM1408 1048h1v1h-1zM1411 1048h1v1h-1zM1414 1048h1v1h-1zM1417 1048h1v1h-1zM1420 1048h1v1h-1zM1423 1048h1v1h-1zM1426 1048h1v1h-1zM1429 1048h1v1h-1zM1432 1048h1v1h-1zM1435 1048h1v1h-1zM1438 1048h1v1h-1zM1441 1048h1v1h-1zM1444 1048h1v1h-1zM1447 1048h1v1h-1zM1450 1048h1v1h-1zM1453 1048h1v1h-1zM1456 1048h1v1h-1zM1459 1048h1v1h-1zM1462 1048h1v1h-1zM1465 1048h1v1h-1zM1468 1048h1v1h-1zM1471 1048h1v1h-1zM1474 1048h1v1h-1zM1477 1048h1v1h-1zM1480 1048h1v1h-1zM1483 1048h1v1h-1zM1486 1048h1v1h-1zM1489 1048h1v1h-1zM1492 1048h1v1h-1zM1495 1048h1v1h-1zM1498 1048h1v1h-1zM1501 1048h1v1h-1zM1504 1048h1v1h-1zM1507 1048h1v1h-1zM1510 1048h1v1h-1zM1513 1048h1v1h-1zM1516 1048h1v1h-1zM1519 1048h1v1h-1zM1522 1048h1v1h-1zM1525 1048h1v1h-1zM1528 1048h1v1h-1zM1531 1048h1v1h-1zM1534 1048h1v1h-1zM1537 1048h1v1h-1zM1540 1048h1v1h-1zM1543 1048h1v1h-1zM1546 1048h1v1h-1zM1549 1048h1v1h-1zM1552 1048h1v1h-1zM1555 1048h1v1h-1zM1558 1048h1v1h-1zM1561 1048h1v1h-1zM1564 1048h1v1h-1zM1567 1048h1v1h-1zM1570 1048h1v1h-1zM1573 1048h1v1h-1zM1576 1048h1v1h-1zM1579 1048h1v1h-1zM1582 1048h1v1h-1zM1585 1048h1v1h-1zM1588 1048h1v1h-1zM1591 1048h1v1h-1zM1594 1048h1v1h-1zM1597 1048h1v1h-1zM1600 1048h1v1h-1zM1603 1048h1v1h-1zM1606 1048h1v1h-1zM1609 1048h1v1h-1zM1612 1048h1v1h-1zM1615 1048h1v1h-1zM1618 1048h1v1h-1zM1621 1048h1v1h-1zM1624 1048h1v1h-1zM1627 1048h1v1h-1zM1630 1048h1v1h-1zM1633 1048h1v1h-1zM1636 1048h1v1h-1zM1639 1048h1v1h-1zM1642 1048h1v1h-1zM1645 1048h1v1h-1zM1648 1048h1v1h-1zM1651 1048h1v1h-1zM1654 1048h1v1h-1zM1657 1048h1v1h-1zM1660 1048h1v1h-1zM1663 1048h1v1h-1zM1666 1048h1v1h-1zM1669 1048h1v1h-1zM1672 1048h1v1h-1zM1675 1048h1v1h-1zM1678 1048h1v1h-1zM1681 1048h1v1h-1zM1684 1048h1v1h-1zM1687 1048h1v1h-1zM1690 1048h1v1h-1zM1693 1048h1v1h-1zM1696 1048h1v1h-1zM1699 1048h1v1h-1zM1702 1048h1v1h-1zM1705 1048h1v1h-1zM1708 1048h1v1h-1zM1711 1048h1v1h-1zM1714 1048h1v1h-1zM1717 1048h1v1h-1zM1720 1048h1v1h-1zM1723 1048h1v1h-1zM1726 1048h1v1h-1zM1729 1048h1v1h-1zM1732 1048h1v1h-1zM1735 1048h1v1h-1zM1738 1048h1v1h-1zM1741 1048h1v1h-1zM1744 1048h1v1h-1zM1747 1048h1v1h-1zM1750 1048h1v1h-1zM1753 1048h1v1h-1zM1756 1048h1v1h-1zM1759 1048h1v1h-1zM1762 1048h1v1h-1zM1765 1048h1v1h-1zM1768 1048h1v1h-1zM1771 1048h1v1h-1zM1774 1048h1v1h-1zM1777 1048h1v1h-1zM1780 1048h1v1h-1zM1783 1048h1v1h-1zM1786 1048h1v1h-1zM1789 1048h1v1h-1zM1792 1048h1v1h-1zM1795 1048h1v1h-1zM1798 1048h1v1h-1zM1801 1048h1v1h-1zM1804 1048h1v1h-1zM1807 1048h1v1h-1zM1810 1048h1v1h-1zM1813 1048h1v1h-1zM1816 1048h1v1h-1zM1819 1048h1v1h-1zM1822 1048h1v1h-1zM1825 1048h1v1h-1zM1828 1048h1v1h-1zM1831 1048h1v1h-1zM1834 1048h1v1h-1zM1837 1048h1v1h-1zM1840 1048h1v1h-1zM1843 1048h1v1h-1zM1846 1048h1v1h-1zM1849 1048h1v1h-1zM1852 1048h1v1h-1zM1855 1048h1v1h-1zM1858 1048h1v1h-1zM1861 1048h1v1h-1zM1864 1048h1v1h-1zM1867 1048h1v1h-1zM1870 1048h1v1h-1zM1873 1048h1v1h-1zM1876 1048h1v1h-1zM1879 1048h1v1h-1zM1882 1048h1v1h-1zM1885 1048h1v1h-1zM1888 1048h1v1h-1zM1891 1048h1v1h-1zM1894 1048h1v1h-1zM1897 1048h1v1h-1zM1900 1048h1v1h-1zM1903 1048h1v1h-1zM1906 1048h1v1h-1zM1909 1048h1v1h-1zM1912 1048h1v1h-1zM1915 1048h1v1h-1zM1918 1048h1v1h-1zM1921 1048h1v1h-1zM1924 1048h1v1h-1zM1927 1048h1v1h-1zM1930 1048h1v1h-1zM1933 1048h1v1h-1zM1936 1048h1v1h-1zM1939 1048h1v1h-1zM1942 1048h1v1h-1zM1945 1048h1v1h-1zM1948 1048h1v1h-1zM1951 1048h1v1h-1zM1954 1048h1v1h-1zM1957 1048h1v1h-1zM1960 1048h1v1h-1zM1963 1048h1v1h-1zM1966 1048h1v1h-1zM1969 1048h1v1h-1zM1972 1048h1v1h-1zM1975 1048h1v1h-1zM1978 1048h1v1h-1zM1981 1048h1v1h-1zM1984 1048h1v1h-1zM1987 1048h1v1h-1zM1990 1048h1v1h-1zM1993 1048h1v1h-1zM1996 1048h1v1h-1zM1999 1048h1v1h-1zM2002 1048h1v1h-1zM2005 1048h1v1h-1zM2008 1048h1v1h-1zM2011 1048h1v1h-1zM2014 1048h1v1h-1zM2017 1048h1v1h-1zM2020 1048h1v1h-1zM2023 1048h1v1h-1zM2026 1048h1v1h-1zM2029 1048h1v1h-1zM2032 1048h1v1h-1zM2035 1048h1v1h-1zM2038 1048h1v1h-1zM2041 1048h1v1h-1zM2044 1048h1v1h-1zM2047 1048h1v1h-1zM2050 1048h1v1h-1zM2053 1048h1v1h-1zM2056 1048h1v1h-1zM2059 1048h1v1h-1zM2062 1048h1v1h-1zM2065 1048h1v1h-1zM2068 1048h1v1h-1zM2071 1048h1v1h-1zM2074 1048h1v1h-1zM2077 1048h1v1h-1zM2080 1048h1v1h-1zM2083 1048h1v1h-1zM2086 1048h1v1h-1zM2089 1048h1v1h-1zM2092 1048h1v1h-1zM2095 1048h1v1h-1zM2098 1048h1v1h-1zM2101 1048h1v1h-1zM2104 1048h1v1h-1zM2107 1048h1v1h-1zM2110 1048h1v1h-1zM2113 1048h1v1h-1zM2116 1048h1v1h-1zM2119 1048h1v1h-1zM2122 1048h1v1h-1zM2125 1048h1v1h-1zM2128 1048h1v1h-1zM2131 1048h1v1h-1zM2134 1048h1v1h-1zM2137 1048h1v1h-1zM2140 1048h1v1h-1zM2143 1048h1v1h-1zM2146 1048h1v1h-1zM2149 1048h1v1h-1zM2152 1048h1v1h-1zM2155 1048h1v1h-1zM2158 1048h1v1h-1zM2161 1048h1v1h-1zM2164 1048h1v1h-1zM2167 1048h1v1h-1zM2170 1048h1v1h-1zM2173 1048h1v1h-1zM2176 1048h1v1h-1zM2179 1048h1v1h-1zM2182 1048h1v1h-1zM2185 1048h1v1h-1zM2188 1048h1v1h-1zM2191 1048h1v1h-1zM2194 1048h1v1h-1zM2197 1048h1v1h-1zM2200 1048h1v1h-1zM2203 1048h1v1h-1zM2206 1048h1v1h-1zM2209 1048h1v1h-1zM2212 1048h1v1h-1zM2215 1048h1v1h-1zM2218 1048h1v1h-1zM2221 1048h1v1h-1zM2224 1048h1v1h-1zM2227 1048h1v1h-1zM2230 1048h1v1h-1zM2233 1048h1v1h-1zM2236 1048h1v1h-1zM2239 1048h1v1h-1zM2242 1048h1v1h-1zM2245 1048h1v1h-1zM2248 1048h1v1h-1zM2251 1048h1v1h-1zM2254 1048h1v1h-1zM2257 1048h1v1h-1zM2260 1048h1v1h-1zM2263 1048h1v1h-1zM2266 1048h1v1h-1zM2269 1048h1v1h-1zM2272 1048h1v1h-1zM2275 1048h1v1h-1zM2278 1048h1v1h-1zM2281 1048h1v1h-1zM2284 1048h1v1h-1zM2287 1048h1v1h-1zM2290 1048h1v1h-1zM2293 1048h1v1h-1zM2296 1048h1v1h-1zM2299 1048h1v1h-1z"/>
</g>
<rect class="ce" x="1153" y="271" width="970" height="453" fill="#fbd9de" stroke="#000000" stroke-width="2"/>
<text x="854.01" y="608.80" font-size="80" fill="#000000" textLength="603.29" lengthAdjust="spacingAndGlyphs" fill-opacity="0.078">U.S. Dollar Index</text>
<g fill="none" stroke="#2962ff" stroke-width="4" stroke-linecap="round" stroke-linejoin="round">
<line x1="1187.7" y1="304.0" x2="2088.1" y2="591.0"/>
<polyline points="2075.3,566.2 2088.1,591.0 2063.2,603.9"/>
</g>
<clipPath id="cc"><rect x="10" y="28" width="2292" height="1110"/></clipPath>
<g class="ce" clip-path="url(#cc)">
<rect x="10" y="973" width="1" height="76" fill="#737375"/>
<rect x="4" y="988" width="13" height="15" fill="#5b1a13"/>
<rect x="5" y="989" width="11" height="13" fill="#d75442"/>
<rect x="27" y="688" width="1" height="325" fill="#737375"/>
<rect x="21" y="741" width="13" height="262" fill="#225437"/>
<rect x="22" y="742" width="11" height="260" fill="#6ba583"/>
<rect x="45" y="669" width="1" height="134" fill="#737375"/>
<rect x="39" y="741" width="13" height="36" fill="#5b1a13"/>
<rect x="40" y="742" width="11" height="34" fill="#d75442"/>
<rect x="62" y="776" width="1" height="17" fill="#737375"/>
<rect x="56" y="778" width="13" height="7" fill="#5b1a13"/>
<rect x="57" y="779" width="11" height="5" fill="#d75442"/>
<rect x="79" y="752" width="1" height="85" fill="#737375"/>
<rect x="73" y="785" width="13" height="36" fill="#5b1a13"/>
<rect x="74" y="786" width="11" height="34" fill="#d75442"/>
<rect x="97" y="809" width="1" height="49" fill="#737375"/>
<rect x="91" y="820" width="13" height="32" fill="#5b1a13"/>
<rect x="92" y="821" width="11" height="30" fill="#d75442"/>
<rect x="114" y="779" width="1" height="123" fill="#737375"/>
<rect x="108" y="852" width="13" height="33" fill="#5b1a13"/>
<rect x="109" y="853" width="11" height="31" fill="#d75442"/>
<rect x="131" y="796" width="1" height="96" fill="#737375"/>
<rect x="125" y="808" width="13" height="77" fill="#225437"/>
<rect x="126" y="809" width="11" height="75" fill="#6ba583"/>
<rect x="148" y="745" width="1" height="73" fill="#737375"/>
<rect x="142" y="783" width="13" height="27" fill="#225437"/>
<rect x="143" y="784" width="11" height="25" fill="#6ba583"/>
<rect x="166" y="718" width="1" height="97" fill="#737375"/>
<rect x="160" y="719" width="13" height="65" fill="#225437"/>
<rect x="161" y="720" width="11" height="63" fill="#6ba583"/>
<rect x="183" y="515" width="1" height="223" fill="#737375"/>
<rect x="177" y="519" width="13" height="200" fill="#225437"/>
<rect x="178" y="520" width="11" height="198" fill="#6ba583"/>
<rect x="200" y="474" width="1" height="172" fill="#737375"/>
<rect x="194" y="518" width="13" height="70" fill="#5b1a13"/>
<rect x="195" y="519" width="11" height="68" fill="#d75442"/>
<rect x="218" y="546" width="1" height="70" fill="#737375"/>
<rect x="212" y="588" width="13" height="4" fill="#5b1a13"/>
<rect x="213" y="589" width="11" height="2" fill="#d75442"/>
<rect x="235" y="556" width="1" height="37" fill="#737375"/>
<rect x="229" y="579" width="13" height="10" fill="#225437"/>
<rect x="230" y="580" width="11" height="8" fill="#6ba583"/>
<rect x="252" y="559" width="1" height="38" fill="#737375"/>
<rect x="246" y="571" width="13" height="8" fill="#225437"/>
<rect x="247" y="572" width="11" height="6" fill="#6ba583"/>
<rect x="270" y="570" width="1" height="22" fill="#737375"/>
<rect x="264" y="571" width="13" height="11" fill="#5b1a13"/>
<rect x="265" y="572" width="11" height="9" fill="#d75442"/>
<rect x="287" y="590" width="1" height="30" fill="#737375"/>
<rect x="281" y="596" width="13" height="18" fill="#5b1a13"/>
<rect x="282" y="597" width="11" height="16" fill="#d75442"/>
<rect x="304" y="584" width="1" height="53" fill="#737375"/>
<rect x="298" y="592" width="13" height="21" fill="#225437"/>
<rect x="299" y="593" width="11" height="19" fill="#6ba583"/>
<rect x="322" y="575" width="1" height="33" fill="#737375"/>
<rect x="316" y="590" width="13" height="15" fill="#5b1a13"/>
<rect x="317" y="591" width="11" height="13" fill="#d75442"/>
<rect x="339" y="539" width="1" height="66" fill="#737375"/>
<rect x="333" y="542" width="13" height="63" fill="#225437"/>
<rect x="334" y="543" width="11" height="61" fill="#6ba583"/>
<rect x="356" y="506" width="1" height="70" fill="#737375"/>
<rect x="350" y="543" width="13" height="30" fill="#5b1a13"/>
<rect x="351" y="544" width="11" height="28" fill="#d75442"/>
<rect x="374" y="553" width="1" height="42" fill="#737375"/>
<rect x="368" y="567" width="13" height="5" fill="#225437"/>
<rect x="369" y="568" width="11" height="3" fill="#6ba583"/>
<rect x="391" y="500" width="1" height="85" fill="#737375"/>
<rect x="385" y="505" width="13" height="63" fill="#225437"/>
<rect x="386" y="506" width="11" height="61" fill="#6ba583"/>
<rect x="408" y="411" width="1" height="95" fill="#737375"/>
<rect x="402" y="466" width="13" height="39" fill="#225437"/>
<rect x="403" y="467" width="11" height="37" fill="#6ba583"/>
<rect x="426" y="427" width="1" height="67" fill="#737375"/>
<rect x="420" y="441" width="13" height="25" fill="#225437"/>
<rect x="421" y="442" width="11" height="23" fill="#6ba583"/>
<rect x="443" y="411" width="1" height="34" fill="#737375"/>
<rect x="437" y="432" width="13" height="11" fill="#225437"/>
<rect x="438" y="433" width="11" height="9" fill="#6ba583"/>
<rect x="460" y="425" width="1" height="60" fill="#737375"/>
<rect x="454" y="432" width="13" height="47" fill="#5b1a13"/>
<rect x="455" y="433" width="11" height="45" fill="#d75442"/>
<rect x="478" y="425" width="1" height="46" fill="#737375"/>
<rect x="472" y="431" width="13" height="28" fill="#225437"/>
<rect x="473" y="432" width="11" height="26" fill="#6ba583"/>
<rect x="495" y="413" width="1" height="37" fill="#737375"/>
<rect x="489" y="432" width="13" height="9" fill="#225437"/>
<rect x="490" y="433" width="11" height="7" fill="#6ba583"/>
<rect x="512" y="428" width="1" height="35" fill="#737375"/>
<rect x="506" y="431" width="13" height="30" fill="#5b1a13"/>
<rect x="507" y="432" width="11" height="28" fill="#d75442"/>
<rect x="529" y="454" width="1" height="22" fill="#737375"/>
<rect x="523" y="460" width="13" height="5" fill="#5b1a13"/>
<rect x="524" y="461" width="11" height="3" fill="#d75442"/>
<rect x="547" y="453" width="1" height="30" fill="#737375"/>
<rect x="541" y="464" width="13" height="10" fill="#5b1a13"/>
<rect x="542" y="465" width="11" height="8" fill="#d75442"/>
<rect x="564" y="369" width="1" height="105" fill="#737375"/>
<rect x="558" y="379" width="13" height="95" fill="#225437"/>
<rect x="559" y="380" width="11" height="93" fill="#6ba583"/>
<rect x="581" y="359" width="1" height="43" fill="#737375"/>
<rect x="575" y="379" width="13" height="5" fill="#5b1a13"/>
<rect x="576" y="380" width="11" height="3" fill="#d75442"/>
<rect x="599" y="341" width="1" height="72" fill="#737375"/>
<rect x="593" y="358" width="13" height="25" fill="#225437"/>
<rect x="594" y="359" width="11" height="23" fill="#6ba583"/>
<rect x="616" y="335" width="1" height="81" fill="#737375"/>
<rect x="610" y="358" width="13" height="57" fill="#5b1a13"/>
<rect x="611" y="359" width="11" height="55" fill="#d75442"/>
<rect x="633" y="404" width="1" height="63" fill="#737375"/>
<rect x="627" y="415" width="13" height="10" fill="#5b1a13"/>
<rect x="628" y="416" width="11" height="8" fill="#d75442"/>
<rect x="651" y="386" width="1" height="53" fill="#737375"/>
<rect x="645" y="395" width="13" height="30" fill="#225437"/>
<rect x="646" y="396" width="11" height="28" fill="#6ba583"/>
<rect x="668" y="382" width="1" height="27" fill="#737375"/>
<rect x="662" y="394" width="13" height="3" fill="#225437"/>
<rect x="663" y="395" width="11" height="1" fill="#6ba583"/>
<rect x="685" y="390" width="1" height="9" fill="#737375"/>
<rect x="679" y="390" width="13" height="4" fill="#225437"/>
<rect x="680" y="391" width="11" height="2" fill="#6ba583"/>
<rect x="703" y="303" width="1" height="48" fill="#737375"/>
<rect x="697" y="338" width="13" height="10" fill="#5b1a13"/>
<rect x="698" y="339" width="11" height="8" fill="#d75442"/>
<rect x="720" y="330" width="1" height="55" fill="#737375"/>
<rect x="714" y="345" width="13" height="28" fill="#5b1a13"/>
<rect x="715" y="346" width="11" height="26" fill="#d75442"/>
<rect x="737" y="351" width="1" height="49" fill="#737375"/>
<rect x="731" y="373" width="13" height="8" fill="#5b1a13"/>
<rect x="732" y="374" width="11" height="6" fill="#d75442"/>
<rect x="755" y="371" width="1" height="93" fill="#737375"/>
<rect x="749" y="380" width="13" height="52" fill="#5b1a13"/>
<rect x="750" y="381" width="11" height="50" fill="#d75442"/>
<rect x="772" y="320" width="1" height="119" fill="#737375"/>
<rect x="766" y="323" width="13" height="110" fill="#225437"/>
<rect x="767" y="324" width="11" height="108" fill="#6ba583"/>
<rect x="789" y="275" width="1" height="81" fill="#737375"/>
<rect x="783" y="276" width="13" height="50" fill="#225437"/>
<rect x="784" y="277" width="11" height="48" fill="#6ba583"/>
<rect x="807" y="236" width="1" height="78" fill="#737375"/>
<rect x="801" y="276" width="13" height="20" fill="#5b1a13"/>
<rect x="802" y="277" width="11" height="18" fill="#d75442"/>
<rect x="824" y="215" width="1" height="92" fill="#737375"/>
<rect x="818" y="286" width="13" height="10" fill="#225437"/>
<rect x="819" y="287" width="11" height="8" fill="#6ba583"/>
<rect x="841" y="231" width="1" height="70" fill="#737375"/>
<rect x="835" y="237" width="13" height="47" fill="#225437"/>
<rect x="836" y="238" width="11" height="45" fill="#6ba583"/>
<rect x="858" y="208" width="1" height="36" fill="#737375"/>
<rect x="852" y="210" width="13" height="28" fill="#225437"/>
<rect x="853" y="211" width="11" height="26" fill="#6ba583"/>
<rect x="876" y="194" width="1" height="32" fill="#737375"/>
<rect x="870" y="208" width="13" height="12" fill="#5b1a13"/>
<rect x="871" y="209" width="11" height="10" fill="#d75442"/>
<rect x="893" y="219" width="1" height="13" fill="#737375"/>
<rect x="887" y="219" width="13" height="6" fill="#5b1a13"/>
<rect x="888" y="220" width="11" height="4" fill="#d75442"/>
<rect x="910" y="223" width="1" height="74" fill="#737375"/>
<rect x="904" y="233" width="13" height="26" fill="#5b1a13"/>
<rect x="905" y="234" width="11" height="24" fill="#d75442"/>
<rect x="928" y="233" width="1" height="40" fill="#737375"/>
<rect x="922" y="246" width="13" height="11" fill="#225437"/>
<rect x="923" y="247" width="11" height="9" fill="#6ba583"/>
<rect x="945" y="241" width="1" height="27" fill="#737375"/>
<rect x="939" y="243" width="13" height="12" fill="#5b1a13"/>
<rect x="940" y="244" width="11" height="10" fill="#d75442"/>
<rect x="962" y="219" width="1" height="48" fill="#737375"/>
<rect x="956" y="237" width="13" height="16" fill="#225437"/>
<rect x="957" y="238" width="11" height="14" fill="#6ba583"/>
<rect x="980" y="216" width="1" height="62" fill="#737375"/>
<rect x="974" y="225" width="13" height="20" fill="#225437"/>
<rect x="975" y="226" width="11" height="18" fill="#6ba583"/>
<rect x="997" y="187" width="1" height="52" fill="#737375"/>
<rect x="991" y="225" width="13" height="9" fill="#5b1a13"/>
<rect x="992" y="226" width="11" height="7" fill="#d75442"/>
<rect x="1014" y="168" width="1" height="84" fill="#737375"/>
<rect x="1008" y="171" width="13" height="64" fill="#225437"/>
<rect x="1009" y="172" width="11" height="62" fill="#6ba583"/>
<rect x="1032" y="138" width="1" height="103" fill="#737375"/>
<rect x="1026" y="170" width="13" height="16" fill="#5b1a13"/>
<rect x="1027" y="171" width="11" height="14" fill="#d75442"/>
<rect x="1049" y="149" width="1" height="77" fill="#737375"/>
<rect x="1043" y="185" width="13" height="19" fill="#5b1a13"/>
<rect x="1044" y="186" width="11" height="17" fill="#d75442"/>
<rect x="1066" y="196" width="1" height="32" fill="#737375"/>
<rect x="1060" y="202" width="13" height="20" fill="#5b1a13"/>
<rect x="1061" y="203" width="11" height="18" fill="#d75442"/>
<rect x="1084" y="221" width="1" height="28" fill="#737375"/>
<rect x="1078" y="221" width="13" height="24" fill="#5b1a13"/>
<rect x="1079" y="222" width="11" height="22" fill="#d75442"/>
<rect x="1101" y="237" width="1" height="13" fill="#737375"/>
<rect x="1095" y="243" width="13" height="1" fill="#225437"/>
<rect x="1118" y="271" width="1" height="41" fill="#737375"/>
<rect x="1112" y="271" width="13" height="37" fill="#5b1a13"/>
<rect x="1113" y="272" width="11" height="35" fill="#d75442"/>
<rect x="1136" y="286" width="1" height="29" fill="#737375"/>
<rect x="1130" y="304" width="13" height="3" fill="#225437"/>
<rect x="1131" y="305" width="11" height="1" fill="#6ba583"/>
<rect x="1153" y="286" width="1" height="29" fill="#737375"/>
<rect x="1147" y="306" width="13" height="9" fill="#5b1a13"/>
<rect x="1148" y="307" width="11" height="7" fill="#d75442"/>
<rect x="1170" y="286" width="1" height="48" fill="#737375"/>
<rect x="1164" y="312" width="13" height="3" fill="#5b1a13"/>
<rect x="1165" y="313" width="11" height="1" fill="#d75442"/>
<rect x="1188" y="309" width="1" height="78" fill="#737375"/>
<rect x="1182" y="314" width="13" height="30" fill="#5b1a13"/>
<rect x="1183" y="315" width="11" height="28" fill="#d75442"/>
<rect x="1205" y="328" width="1" height="48" fill="#737375"/>
<rect x="1199" y="344" width="13" height="29" fill="#5b1a13"/>
<rect x="1200" y="345" width="11" height="27" fill="#d75442"/>
<rect x="1222" y="338" width="1" height="130" fill="#737375"/>
<rect x="1216" y="369" width="13" height="61" fill="#5b1a13"/>
<rect x="1217" y="370" width="11" height="59" fill="#d75442"/>
<rect x="1239" y="355" width="1" height="90" fill="#737375"/>
<rect x="1233" y="430" width="13" height="7" fill="#5b1a13"/>
<rect x="1234" y="431" width="11" height="5" fill="#d75442"/>
<rect x="1257" y="402" width="1" height="69" fill="#737375"/>
<rect x="1251" y="435" width="13" height="25" fill="#5b1a13"/>
<rect x="1252" y="436" width="11" height="23" fill="#d75442"/>
<rect x="1274" y="449" width="1" height="53" fill="#737375"/>
<rect x="1268" y="457" width="13" height="13" fill="#5b1a13"/>
<rect x="1269" y="458" width="11" height="11" fill="#d75442"/>
<rect x="1291" y="466" width="1" height="27" fill="#737375"/>
<rect x="1285" y="468" width="13" height="16" fill="#5b1a13"/>
<rect x="1286" y="469" width="11" height="14" fill="#d75442"/>
<rect x="1309" y="472" width="1" height="20" fill="#737375"/>
<rect x="1303" y="483" width="13" height="6" fill="#5b1a13"/>
<rect x="1304" y="484" width="11" height="4" fill="#d75442"/>
<rect x="1326" y="435" width="1" height="22" fill="#737375"/>
<rect x="1320" y="444" width="13" height="13" fill="#225437"/>
<rect x="1321" y="445" width="11" height="11" fill="#6ba583"/>
<rect x="1343" y="430" width="1" height="37" fill="#737375"/>
<rect x="1337" y="442" width="13" height="4" fill="#225437"/>
<rect x="1338" y="443" width="11" height="2" fill="#6ba583"/>
<rect x="1361" y="416" width="1" height="26" fill="#737375"/>
<rect x="1355" y="419" width="13" height="23" fill="#225437"/>
<rect x="1356" y="420" width="11" height="21" fill="#6ba583"/>
<rect x="1378" y="400" width="1" height="27" fill="#737375"/>
<rect x="1372" y="418" width="13" height="3" fill="#225437"/>
<rect x="1373" y="419" width="11" height="1" fill="#6ba583"/>
<rect x="1395" y="396" width="1" height="43" fill="#737375"/>
<rect x="1389" y="416" width="13" height="3" fill="#225437"/>
<rect x="1390" y="417" width="11" height="1" fill="#6ba583"/>
<rect x="1413" y="413" width="1" height="104" fill="#737375"/>
<rect x="1407" y="416" width="13" height="92" fill="#5b1a13"/>
<rect x="1408" y="417" width="11" height="90" fill="#d75442"/>
<rect x="1430" y="491" width="1" height="70" fill="#737375"/>
<rect x="1424" y="507" width="13" height="40" fill="#5b1a13"/>
<rect x="1425" y="508" width="11" height="38" fill="#d75442"/>
<rect x="1447" y="535" width="1" height="111" fill="#737375"/>
<rect x="1441" y="544" width="13" height="32" fill="#5b1a13"/>
<rect x="1442" y="545" width="11" height="30" fill="#d75442"/>
<rect x="1465" y="572" width="1" height="58" fill="#737375"/>
<rect x="1459" y="573" width="13" height="53" fill="#5b1a13"/>
<rect x="1460" y="574" width="11" height="51" fill="#d75442"/>
<rect x="1482" y="525" width="1" height="113" fill="#737375"/>
<rect x="1476" y="538" width="13" height="85" fill="#225437"/>
<rect x="1477" y="539" width="11" height="83" fill="#6ba583"/>
<rect x="1499" y="532" width="1" height="42" fill="#737375"/>
<rect x="1493" y="538" width="13" height="26" fill="#5b1a13"/>
<rect x="1494" y="539" width="11" height="24" fill="#d75442"/>
<rect x="1517" y="465" width="1" height="61" fill="#737375"/>
<rect x="1511" y="469" width="13" height="57" fill="#225437"/>
<rect x="1512" y="470" width="11" height="55" fill="#6ba583"/>
<rect x="1534" y="473" width="1" height="56" fill="#737375"/>
<rect x="1528" y="474" width="13" height="46" fill="#5b1a13"/>
<rect x="1529" y="475" width="11" height="44" fill="#d75442"/>
<rect x="1551" y="488" width="1" height="41" fill="#737375"/>
<rect x="1545" y="501" width="13" height="18" fill="#225437"/>
<rect x="1546" y="502" width="11" height="16" fill="#6ba583"/>
<rect x="1569" y="503" width="1" height="47" fill="#737375"/>
<rect x="1563" y="503" width="13" height="30" fill="#5b1a13"/>
<rect x="1564" y="504" width="11" height="28" fill="#d75442"/>
<rect x="1586" y="487" width="1" height="86" fill="#737375"/>
<rect x="1580" y="532" width="13" height="20" fill="#5b1a13"/>
<rect x="1581" y="533" width="11" height="18" fill="#d75442"/>
<rect x="1603" y="539" width="1" height="77" fill="#737375"/>
<rect x="1597" y="551" width="13" height="6" fill="#5b1a13"/>
<rect x="1598" y="552" width="11" height="4" fill="#d75442"/>
<rect x="1620" y="499" width="1" height="73" fill="#737375"/>
<rect x="1614" y="544" width="13" height="13" fill="#225437"/>
<rect x="1615" y="545" width="11" height="11" fill="#6ba583"/>
<rect x="1638" y="542" width="1" height="61" fill="#737375"/>
<rect x="1632" y="544" width="13" height="24" fill="#5b1a13"/>
<rect x="1633" y="545" width="11" height="22" fill="#d75442"/>
<rect x="1655" y="476" width="1" height="91" fill="#737375"/>
<rect x="1649" y="478" width="13" height="89" fill="#225437"/>
<rect x="1650" y="479" width="11" height="87" fill="#6ba583"/>
<rect x="1672" y="469" width="1" height="82" fill="#737375"/>
<rect x="1666" y="478" width="13" height="71" fill="#5b1a13"/>
<rect x="1667" y="479" width="11" height="69" fill="#d75442"/>
<rect x="1690" y="538" width="1" height="27" fill="#737375"/>
<rect x="1684" y="546" width="13" height="1" fill="#225437"/>
<rect x="1707" y="519" width="1" height="40" fill="#737375"/>
<rect x="1701" y="527" width="13" height="18" fill="#225437"/>
<rect x="1702" y="528" width="11" height="16" fill="#6ba583"/>
<rect x="1724" y="523" width="1" height="12" fill="#737375"/>
<rect x="1718" y="525" width="13" height="4" fill="#5b1a13"/>
<rect x="1719" y="526" width="11" height="2" fill="#d75442"/>
<rect x="1742" y="467" width="1" height="42" fill="#737375"/>
<rect x="1736" y="501" width="13" height="8" fill="#225437"/>
<rect x="1737" y="502" width="11" height="6" fill="#6ba583"/>
<rect x="1759" y="486" width="1" height="30" fill="#737375"/>
<rect x="1753" y="501" width="13" height="7" fill="#5b1a13"/>
<rect x="1754" y="502" width="11" height="5" fill="#d75442"/>
<rect x="1776" y="500" width="1" height="40" fill="#737375"/>
<rect x="1770" y="509" width="13" height="21" fill="#5b1a13"/>
<rect x="1771" y="510" width="11" height="19" fill="#d75442"/>
<rect x="1794" y="469" width="1" height="68" fill="#737375"/>
<rect x="1788" y="506" width="13" height="26" fill="#225437"/>
<rect x="1789" y="507" width="11" height="24" fill="#6ba583"/>
<rect x="1811" y="477" width="1" height="60" fill="#737375"/>
<rect x="1805" y="505" width="13" height="19" fill="#5b1a13"/>
<rect x="1806" y="506" width="11" height="17" fill="#d75442"/>
<rect x="1828" y="507" width="1" height="65" fill="#737375"/>
<rect x="1822" y="523" width="13" height="37" fill="#5b1a13"/>
<rect x="1823" y="524" width="11" height="35" fill="#d75442"/>
<rect x="1846" y="546" width="1" height="159" fill="#737375"/>
<rect x="1840" y="557" width="13" height="132" fill="#5b1a13"/>
<rect x="1841" y="558" width="11" height="130" fill="#d75442"/>
<rect x="1863" y="639" width="1" height="64" fill="#737375"/>
<rect x="1857" y="661" width="13" height="29" fill="#225437"/>
<rect x="1858" y="662" width="11" height="27" fill="#6ba583"/>
<rect x="1880" y="645" width="1" height="35" fill="#737375"/>
<rect x="1874" y="662" width="13" height="1" fill="#5b1a13"/>
<rect x="1898" y="620" width="1" height="47" fill="#737375"/>
<rect x="1892" y="623" width="13" height="39" fill="#225437"/>
<rect x="1893" y="624" width="11" height="37" fill="#6ba583"/>
<rect x="1915" y="598" width="1" height="44" fill="#737375"/>
<rect x="1909" y="602" width="13" height="23" fill="#225437"/>
<rect x="1910" y="603" width="11" height="21" fill="#6ba583"/>
<rect x="1932" y="601" width="1" height="17" fill="#737375"/>
<rect x="1926" y="601" width="13" height="12" fill="#5b1a13"/>
<rect x="1927" y="602" width="11" height="10" fill="#d75442"/>
<rect x="1950" y="566" width="1" height="51" fill="#737375"/>
<rect x="1944" y="571" width="13" height="46" fill="#225437"/>
<rect x="1945" y="572" width="11" height="44" fill="#6ba583"/>
<rect x="1967" y="566" width="1" height="29" fill="#737375"/>
<rect x="1961" y="570" width="13" height="8" fill="#5b1a13"/>
<rect x="1962" y="571" width="11" height="6" fill="#d75442"/>
<rect x="1984" y="531" width="1" height="50" fill="#737375"/>
<rect x="1978" y="559" width="13" height="18" fill="#225437"/>
<rect x="1979" y="560" width="11" height="16" fill="#6ba583"/>
<rect x="2001" y="551" width="1" height="61" fill="#737375"/>
<rect x="1995" y="558" width="13" height="30" fill="#5b1a13"/>
<rect x="1996" y="559" width="11" height="28" fill="#d75442"/>
<rect x="2019" y="522" width="1" height="85" fill="#737375"/>
<rect x="2013" y="525" width="13" height="63" fill="#225437"/>
<rect x="2014" y="526" width="11" height="61" fill="#6ba583"/>
<rect x="2036" y="510" width="1" height="55" fill="#737375"/>
<rect x="2030" y="527" width="13" height="37" fill="#5b1a13"/>
<rect x="2031" y="528" width="11" height="35" fill="#d75442"/>
<rect x="2053" y="504" width="1" height="69" fill="#737375"/>
<rect x="2047" y="524" width="13" height="40" fill="#225437"/>
<rect x="2048" y="525" width="11" height="38" fill="#6ba583"/>
<rect x="2071" y="482" width="1" height="139" fill="#737375"/>
<rect x="2065" y="522" width="13" height="99" fill="#5b1a13"/>
<rect x="2066" y="523" width="11" height="97" fill="#d75442"/>
<rect x="2088" y="597" width="1" height="39" fill="#737375"/>
<rect x="2082" y="616" width="13" height="9" fill="#5b1a13"/>
<rect x="2083" y="617" width="11" height="7" fill="#d75442"/>
<rect x="2105" y="590" width="1" height="40" fill="#737375"/>
<rect x="2099" y="593" width="13" height="30" fill="#225437"/>
<rect x="2100" y="594" width="11" height="28" fill="#6ba583"/>
</g>
<g class="ce" fill="#4f4f4f">
<rect x="2302" y="27" width="1" height="1147"/>
<rect x="10" y="1138" width="2369" height="1"/>
</g>
<clipPath id="pl"><rect x="2303" y="60.5" width="76" height="1077"/></clipPath>
<g clip-path="url(#pl)">
<text x="2313.12" y="69.91" font-size="15.6" fill="#555555" textLength="55.46" lengthAdjust="spacingAndGlyphs">100.500</text>
<text x="2313.12" y="122.10" font-size="15.6" fill="#555555" textLength="55.46" lengthAdjust="spacingAndGlyphs">100.400</text>
<text x="2313.12" y="174.99" font-size="15.6" fill="#555555" textLength="55.46" lengthAdjust="spacingAndGlyphs">100.300</text>
<text x="2313.12" y="227.88" font-size="15.6" fill="#555555" textLength="55.46" lengthAdjust="spacingAndGlyphs">100.200</text>
<text x="2313.12" y="280.77" font-size="15.6" fill="#555555" textLength="55.46" lengthAdjust="spacingAndGlyphs">100.100</text>
<text x="2313.12" y="333.66" font-size="15.6" fill="#555555" textLength="55.46" lengthAdjust="spacingAndGlyphs">100.000</text>
<text x="2313.20" y="386.55" font-size="15.6" fill="#555555" textLength="47.08" lengthAdjust="spacingAndGlyphs">99.900</text>
<text x="2313.20" y="439.44" font-size="15.6" fill="#555555" textLength="47.08" lengthAdjust="spacingAndGlyphs">99.800</text>
<text x="2313.20" y="492.33" font-size="15.6" fill="#555555" textLength="47.08" lengthAdjust="spacingAndGlyphs">99.700</text>
<text x="2313.20" y="545.22" font-size="15.6" fill="#555555" textLength="47.08" lengthAdjust="spacingAndGlyphs">99.600</text>
<text x="2313.20" y="598.11" font-size="15.6" fill="#555555" textLength="47.08" lengthAdjust="spacingAndGlyphs">99.500</text>
<text x="2313.20" y="651.00" font-size="15.6" fill="#555555" textLength="47.08" lengthAdjust="spacingAndGlyphs">99.400</text>
<text x="2313.20" y="703.89" font-size="15.6" fill="#555555" textLength="47.08" lengthAdjust="spacingAndGlyphs">99.300</text>
<text x="2313.20" y="756.78" font-size="15.6" fill="#555555" textLength="47.08" lengthAdjust="spacingAndGlyphs">99.200</text>
<text x="2313.20" y="809.67" font-size="15.6" fill="#555555" textLength="47.08" lengthAdjust="spacingAndGlyphs">99.100</text>
<text x="2313.20" y="862.56" font-size="15.6" fill="#555555" textLength="47.08" lengthAdjust="spacingAndGlyphs">99.000</text>
<text x="2313.20" y="915.45" font-size="15.6" fill="#555555" textLength="47.08" lengthAdjust="spacingAndGlyphs">98.900</text>
<text x="2313.20" y="968.34" font-size="15.6" fill="#555555" textLength="47.08" lengthAdjust="spacingAndGlyphs">98.800</text>
<text x="2313.20" y="1021.23" font-size="15.6" fill="#555555" textLength="47.08" lengthAdjust="spacingAndGlyphs">98.700</text>
<text x="2313.20" y="1074.12" font-size="15.6" fill="#555555" textLength="47.08" lengthAdjust="spacingAndGlyphs">98.600</text>
<text x="2313.20" y="1127.01" font-size="15.6" fill="#555555" textLength="47.08" lengthAdjust="spacingAndGlyphs">98.500</text>
</g>
<rect x="2306.9" y="31" width="68.6" height="25.8" rx="4" ry="4" fill="#ffffff" stroke="#f2f2f2" stroke-width="1.8"/>
<text x="2315.40" y="48.50" font-size="12.3" fill="#111111" textLength="20.11" lengthAdjust="spacingAndGlyphs">USD</text>
<clipPath id="tc"><rect x="10" y="1139" width="2292" height="34"/></clipPath>
<g clip-path="url(#tc)">
<text x="7.09" y="1161.10" font-size="15.6" fill="#555555" textLength="39.28" lengthAdjust="spacingAndGlyphs">13:00</text>
<text x="123.05" y="1161.10" font-size="15.6" fill="#555555" textLength="16.19" lengthAdjust="spacingAndGlyphs">30</text>
<text x="215.09" y="1161.10" font-size="15.6" fill="#555555" textLength="39.28" lengthAdjust="spacingAndGlyphs">13:00</text>
<text x="331.00" y="1161.10" font-size="15.6" fill="#555555" textLength="15.61" lengthAdjust="spacingAndGlyphs">31</text>
<text x="388.60" y="1161.10" font-size="15.6" fill="#555555" textLength="38.87" lengthAdjust="spacingAndGlyphs">09:00</text>
<text x="463.19" y="1161.10" font-size="15.6" fill="#555555" font-weight="bold" textLength="28.14" lengthAdjust="spacingAndGlyphs">Nov</text>
<text x="542.90" y="1161.10" font-size="15.6" fill="#555555" textLength="7.81" lengthAdjust="spacingAndGlyphs">3</text>
<text x="631.09" y="1161.10" font-size="15.6" fill="#555555" textLength="39.28" lengthAdjust="spacingAndGlyphs">13:00</text>
<text x="750.90" y="1161.10" font-size="15.6" fill="#555555" textLength="6.94" lengthAdjust="spacingAndGlyphs">4</text>
<text x="838.09" y="1161.10" font-size="15.6" fill="#555555" textLength="39.28" lengthAdjust="spacingAndGlyphs">13:00</text>
<text x="957.90" y="1161.10" font-size="15.6" fill="#555555" textLength="6.94" lengthAdjust="spacingAndGlyphs">5</text>
<text x="1046.09" y="1161.10" font-size="15.6" fill="#555555" textLength="39.28" lengthAdjust="spacingAndGlyphs">13:00</text>
<text x="1165.90" y="1161.10" font-size="15.6" fill="#555555" textLength="7.81" lengthAdjust="spacingAndGlyphs">6</text>
<text x="1254.09" y="1161.10" font-size="15.6" fill="#555555" textLength="39.28" lengthAdjust="spacingAndGlyphs">13:00</text>
<text x="1373.90" y="1161.10" font-size="15.6" fill="#555555" textLength="7.81" lengthAdjust="spacingAndGlyphs">7</text>
<text x="1427.60" y="1161.10" font-size="15.6" fill="#555555" textLength="38.87" lengthAdjust="spacingAndGlyphs">09:00</text>
<text x="1512.90" y="1161.10" font-size="15.6" fill="#555555" textLength="7.81" lengthAdjust="spacingAndGlyphs">9</text>
<text x="1577.25" y="1161.10" font-size="15.6" fill="#555555" textLength="16.44" lengthAdjust="spacingAndGlyphs">10</text>
<text x="1670.09" y="1161.10" font-size="15.6" fill="#555555" textLength="39.28" lengthAdjust="spacingAndGlyphs">13:00</text>
<text x="1785.39" y="1161.10" font-size="15.6" fill="#555555" textLength="16.28" lengthAdjust="spacingAndGlyphs">11</text>
<text x="1878.09" y="1161.10" font-size="15.6" fill="#555555" textLength="39.28" lengthAdjust="spacingAndGlyphs">13:00</text>
<text x="1992.29" y="1161.10" font-size="15.6" fill="#555555" textLength="17.49" lengthAdjust="spacingAndGlyphs">12</text>
<text x="2085.09" y="1161.10" font-size="15.6" fill="#555555" textLength="39.28" lengthAdjust="spacingAndGlyphs">13:00</text>
<text x="2200.49" y="1161.10" font-size="15.6" fill="#555555" textLength="17.49" lengthAdjust="spacingAndGlyphs">13</text>
</g>
<g>
<circle cx="2261.1" cy="1124.9" r="10.4" fill="#ffffff" stroke="#f23645" stroke-width="1.6"/>
<clipPath id="fc"><circle cx="2261.1" cy="1124.9" r="8"/></clipPath>
<g clip-path="url(#fc)">
<rect x="2253.1" y="1116.9" width="16" height="16" fill="#ffffff"/>
<rect x="2253.1" y="1116.9" width="16" height="3.2" fill="#ef4b44"/>
<rect x="2253.1" y="1123.0" width="16" height="3.2" fill="#ef4b44"/>
<rect x="2253.1" y="1129.1" width="16" height="4" fill="#ef4b44"/>
<rect x="2253.1" y="1116.9" width="10.2" height="9.8" fill="#2e8ae6"/>
<rect x="2254.8" y="1118.9" width="1" height="0.7" fill="#d6e8fa"/>
<rect x="2254.8" y="1121.6" width="1" height="0.7" fill="#d6e8fa"/>
<rect x="2254.8" y="1124.2" width="1" height="0.7" fill="#d6e8fa"/>
<rect x="2257.5" y="1118.9" width="1" height="0.7" fill="#d6e8fa"/>
<rect x="2257.5" y="1121.6" width="1" height="0.7" fill="#d6e8fa"/>
<rect x="2257.5" y="1124.2" width="1" height="0.7" fill="#d6e8fa"/>
<rect x="2260.2" y="1118.9" width="1" height="0.7" fill="#d6e8fa"/>
<rect x="2260.2" y="1121.6" width="1" height="0.7" fill="#d6e8fa"/>
<rect x="2260.2" y="1124.2" width="1" height="0.7" fill="#d6e8fa"/>
</g></g>
<text x="10.00" y="18.85" font-size="12" fill="#131313" textLength="90.09" lengthAdjust="spacingAndGlyphs" stroke="#131313" stroke-width="0.25">GoldenRuleRadio</text>
<text x="104.40" y="18.85" font-size="12" fill="#131313" textLength="41.60" lengthAdjust="spacingAndGlyphs" stroke="#131313" stroke-width="0.25">created</text>
<text x="150.96" y="18.85" font-size="12" fill="#131313" textLength="22.65" lengthAdjust="spacingAndGlyphs" stroke="#131313" stroke-width="0.25">with</text>
<text x="176.90" y="18.85" font-size="12" fill="#131313" textLength="94.63" lengthAdjust="spacingAndGlyphs" stroke="#131313" stroke-width="0.25">TradingView.com,</text>
<text x="275.70" y="18.85" font-size="12" fill="#131313" textLength="19.60" lengthAdjust="spacingAndGlyphs" stroke="#131313" stroke-width="0.25">Nov</text>
<text x="300.30" y="18.85" font-size="12" fill="#131313" textLength="15.41" lengthAdjust="spacingAndGlyphs" stroke="#131313" stroke-width="0.25">12,</text>
<text x="319.90" y="18.85" font-size="12" fill="#131313" textLength="24.01" lengthAdjust="spacingAndGlyphs" stroke="#131313" stroke-width="0.25">2025</text>
<text x="349.00" y="18.85" font-size="12" fill="#131313" textLength="27.80" lengthAdjust="spacingAndGlyphs" stroke="#131313" stroke-width="0.25">14:51</text>
<text x="382.10" y="18.85" font-size="12" fill="#131313" textLength="31.61" lengthAdjust="spacingAndGlyphs" stroke="#131313" stroke-width="0.25">UTC-5</text>
<text x="18.40" y="45.80" font-size="12" fill="#555555" textLength="21.00" lengthAdjust="spacingAndGlyphs" stroke="#555555" stroke-width="0.3">U.S.</text>
<text x="44.60" y="45.80" font-size="12" fill="#555555" textLength="31.40" lengthAdjust="spacingAndGlyphs" stroke="#555555" stroke-width="0.3">Dollar</text>
<text x="79.00" y="45.80" font-size="12" fill="#555555" textLength="29.40" lengthAdjust="spacingAndGlyphs" stroke="#555555" stroke-width="0.3">Index</text>
<text x="112.57" y="46.40" font-size="16" fill="#444444" textLength="3.91" lengthAdjust="spacingAndGlyphs">·</text>
<text x="120.80" y="45.80" font-size="12" fill="#555555" textLength="12.43" lengthAdjust="spacingAndGlyphs" stroke="#555555" stroke-width="0.3">2h</text>
<text x="136.97" y="46.40" font-size="16" fill="#444444" textLength="3.91" lengthAdjust="spacingAndGlyphs">·</text>
<text x="145.30" y="45.80" font-size="12" fill="#555555" textLength="19.63" lengthAdjust="spacingAndGlyphs" stroke="#555555" stroke-width="0.3">TVC</text>
<text x="173.50" y="45.80" font-size="12" fill="#555555" textLength="7.67" lengthAdjust="spacingAndGlyphs" stroke="#555555" stroke-width="0.3">O</text>
<text x="181.80" y="45.80" font-size="12" fill="#225437" textLength="34.79" lengthAdjust="spacingAndGlyphs" stroke="#225437" stroke-width="0.3">99.444</text>
<text x="224.80" y="45.80" font-size="12" fill="#555555" textLength="7.37" lengthAdjust="spacingAndGlyphs" stroke="#555555" stroke-width="0.3">H</text>
<text x="232.80" y="45.80" font-size="12" fill="#225437" textLength="34.49" lengthAdjust="spacingAndGlyphs" stroke="#225437" stroke-width="0.3">99.505</text>
<text x="275.80" y="45.80" font-size="12" fill="#555555" textLength="4.96" lengthAdjust="spacingAndGlyphs" stroke="#555555" stroke-width="0.3">L</text>
<text x="281.80" y="45.80" font-size="12" fill="#225437" textLength="34.79" lengthAdjust="spacingAndGlyphs" stroke="#225437" stroke-width="0.3">99.429</text>
<text x="324.70" y="45.80" font-size="12" fill="#555555" textLength="6.07" lengthAdjust="spacingAndGlyphs" stroke="#555555" stroke-width="0.3">C</text>
<text x="332.00" y="45.80" font-size="12" fill="#225437" textLength="34.79" lengthAdjust="spacingAndGlyphs" stroke="#225437" stroke-width="0.3">99.500</text>
<text x="375.20" y="45.80" font-size="12" fill="#225437" textLength="34.30" lengthAdjust="spacingAndGlyphs" stroke="#225437" stroke-width="0.3">+0.059</text>
<text x="415.30" y="45.80" font-size="12" fill="#225437" textLength="44.20" lengthAdjust="spacingAndGlyphs" stroke="#225437" stroke-width="0.3">(+0.06%)</text>
<text x="1281.55" y="230.20" font-size="42" fill="#000000" font-weight="bold" textLength="109.86" lengthAdjust="spacingAndGlyphs" stroke="#ffffff" stroke-width="0.6">Dollar</text>
<text x="1404.27" y="230.20" font-size="42" fill="#000000" font-weight="bold" textLength="100.65" lengthAdjust="spacingAndGlyphs" stroke="#ffffff" stroke-width="0.6">Index</text>
<text x="1518.38" y="230.20" font-size="42" fill="#000000" font-weight="bold" textLength="101.05" lengthAdjust="spacingAndGlyphs" stroke="#ffffff" stroke-width="0.6">down</text>
<text x="1631.59" y="230.20" font-size="42" fill="#000000" font-weight="bold" textLength="87.43" lengthAdjust="spacingAndGlyphs" stroke="#ffffff" stroke-width="0.6">0.5%</text>
<text x="1733.30" y="230.20" font-size="42" fill="#000000" font-weight="bold" textLength="37.42" lengthAdjust="spacingAndGlyphs" stroke="#ffffff" stroke-width="0.6">to</text>
<text x="1783.88" y="230.20" font-size="42" fill="#000000" font-weight="bold" textLength="107.72" lengthAdjust="spacingAndGlyphs" stroke="#ffffff" stroke-width="0.6">99.50</text>
<g transform="translate(12,1192.54) scale(0.8394)" fill="#111111">
<path d="M14 22H7V11H0V4h14v18zM28 22h-8l7.5-18h8L28 22z"/><circle cx="20" cy="8" r="4"/>
</g>
<text x="49.10" y="1211.00" font-size="21.9" fill="#111111" font-weight="bold" textLength="119.89" lengthAdjust="spacingAndGlyphs" stroke="#111111" stroke-width="0.4">TradingView</text>
</svg>
</body></html>
